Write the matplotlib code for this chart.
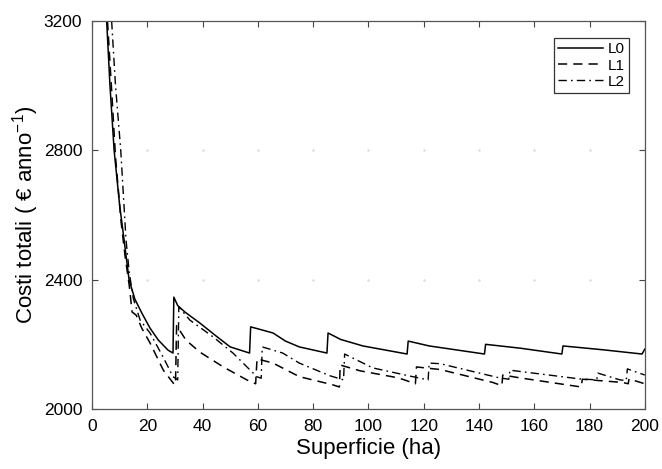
import numpy as np
import matplotlib
matplotlib.use("Agg")
import matplotlib.pyplot as plt

plt.rcParams['font.family'] = ['Liberation Sans', 'DejaVu Sans']

# superficie (ha) / costi totali (EUR anno^-1)
l0_x = [5.3, 6.5, 8, 10, 11.6, 13.4, 15.5, 18, 21, 24, 27.5, 29.3, 29.6, 31, 33.6, 39, 45, 50, 57,
        57.4, 60, 65.5, 70, 75, 85, 85.4, 90, 98, 114, 114.4, 122, 142, 142.4, 155, 170, 170.4,
        185, 199, 200]
l0_y = [3200, 3000, 2800, 2630, 2523, 2400, 2340, 2297, 2250, 2213, 2182, 2173, 2346, 2320, 2300,
        2266, 2225, 2192, 2173, 2254, 2248, 2235, 2210, 2192, 2173, 2235, 2215, 2195, 2170, 2210,
        2195, 2170, 2200, 2188, 2170, 2195, 2183, 2170, 2185]

l1_x = [5.6, 7, 8.5, 10.5, 12, 13.5, 14.5, 16, 18, 21, 25.8, 29.4, 30.2, 30.6, 34, 39, 47.5, 56,
        59.2, 59.7, 65.5, 75, 87, 89.5, 89.8, 97, 111, 117, 117.4, 126, 145, 148.3, 148.6, 155,
        177, 177.4, 192, 194, 194.3, 200]
l1_y = [3200, 3000, 2780, 2580, 2470, 2380, 2300, 2290, 2250, 2204, 2120, 2080, 2075, 2258, 2213,
        2176, 2130, 2090, 2078, 2155, 2142, 2100, 2075, 2068, 2136, 2118, 2096, 2078, 2130, 2122,
        2082, 2072, 2105, 2096, 2068, 2092, 2082, 2078, 2093, 2078]

l2_x = [7.1, 8.5, 10.4, 12.3, 13.5, 15, 17.4, 21, 25.7, 29.3, 31, 31.4, 35.4, 43.8, 51, 59.6, 61.2,
        61.6, 69, 75, 86, 91, 91.4, 101.6, 116, 121.6, 122, 126, 147.5, 150.8, 151.2, 176.5,
        182.6, 183, 191, 193.3, 193.7, 200]
l2_y = [3200, 3000, 2800, 2523, 2420, 2340, 2275, 2235, 2161, 2100, 2090, 2316, 2275, 2223, 2173,
        2100, 2095, 2192, 2173, 2142, 2103, 2090, 2170, 2127, 2100, 2090, 2142, 2140, 2096, 2092,
        2120, 2093, 2090, 2111, 2090, 2088, 2124, 2105]

x_ticks = list(range(0, 201, 20))
y_ticks = [2000, 2400, 2800, 3200]

fig = plt.figure(figsize=(6.62, 4.69), dpi=100)
ax = fig.add_axes([0.139, 0.128, 0.835, 0.827])

# faint MATLAB-like grid dots at the tick crossings
gx, gy = np.meshgrid(x_ticks[1:-1], y_ticks[1:-1])
ax.plot(gx.ravel(), gy.ravel(), ls='none', marker='.', ms=1.5, color='#dadada', zorder=0)

ax.plot(l0_x, l0_y, color='black', lw=1.1, label='L0')
ax.plot(l1_x, l1_y, color='black', lw=1.1, dashes=(6, 4), label='L1')
ax.plot(l2_x, l2_y, color='black', lw=1.0, dashes=(6, 3, 1.2, 3), label='L2')

ax.set_xlim(0, 200)
ax.set_ylim(2000, 3200)
ax.set_xticks(x_ticks)
ax.set_yticks(y_ticks)
ax.tick_params(direction='in', top=True, right=True, length=4, width=0.8,
               labelsize=12.5, color='#444444', pad=7)
for s in ax.spines.values():
    s.set_color('#555555')
    s.set_linewidth(0.9)

ax.set_xlabel('Superficie (ha)', fontsize=16, labelpad=3)
ax.set_ylabel(r'Costi totali ( € anno$^{\mathregular{-1}}$)', fontsize=16, labelpad=2)

leg = ax.legend(loc='upper right', fontsize=11, handlelength=3.0, handletextpad=0.3,
                borderpad=0.25, labelspacing=0.15, fancybox=False, framealpha=1,
                edgecolor='#333333', bbox_to_anchor=(0.985, 0.975))
leg.get_frame().set_linewidth(0.9)

fig.savefig('out.png', dpi=100)
